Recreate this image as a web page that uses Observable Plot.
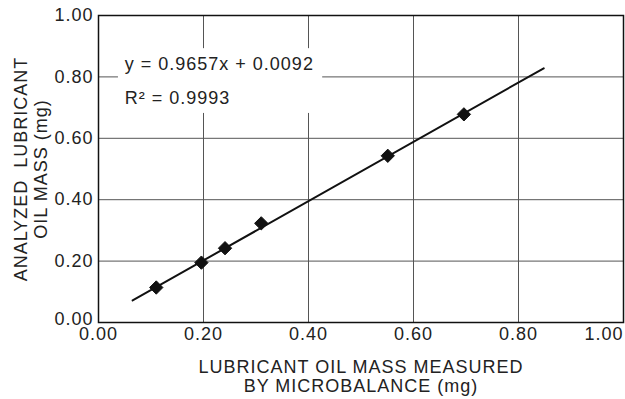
<!DOCTYPE html>
<html>
<head>
<meta charset="utf-8">
<script src="https://cdn.jsdelivr.net/npm/d3@7"></script>
<script src="https://cdn.jsdelivr.net/npm/@observablehq/plot@0.6"></script>
<style>
  html, body { margin: 0; padding: 0; background: #fff; }
  svg { display: block; }
  svg text { letter-spacing: 1px; }
</style>
</head>
<body>
<div id="chart"></div>
<script>
// Measured data (mg)
const measuredX = [0.11, 0.196, 0.241, 0.31, 0.551, 0.696];
const analyzedY = [0.114, 0.195, 0.242, 0.323, 0.543, 0.678];

// Fitted line endpoints as drawn
const fitX = [0.065, 0.848];
const fitY = [0.072, 0.828];

// Tick values
const xTicks = [0, 0.2, 0.4, 0.6, 0.8, 1.0];
const yTicks = [0, 0.2, 0.4, 0.6, 0.8, 1.0];

// Annotation
const eqLines = ["y = 0.9657x + 0.0092", "R² = 0.9993"];
const eqX = [0.05, 0.05];
const eqY = [0.821, 0.713];
const eqBox = [{x1: 0.038, x2: 0.427, y1: 0.681, y2: 0.892}];

const xLabel = "LUBRICANT OIL MASS MEASURED\nBY MICROBALANCE (mg)";
const yLabel = "ANALYZED  LUBRICANT\nOIL MASS (mg)";

const points = measuredX.map((x, i) => ({x, y: analyzedY[i]}));
const fit = fitX.map((x, i) => ({x, y: fitY[i]}));
const eq = eqLines.map((t, i) => ({t, x: eqX[i], y: eqY[i]}));

const fmt = d3.format(".2f");
const xTicksInner = xTicks.slice(0, -1);
const xTickLast = xTicks.slice(-1);
const yTickFirst = yTicks.slice(0, 1);
const yTicksRest = yTicks.slice(1);

const chart = Plot.plot({
  width: 625,
  height: 399,
  marginLeft: 98,
  marginRight: 2,
  marginTop: 15,
  marginBottom: 77,
  style: {fontFamily: "'Liberation Sans', Arial, sans-serif", fontSize: "18px", color: "#222", background: "#fff"},
  x: {domain: [0, 1], label: null},
  y: {domain: [0, 1], label: null},
  marks: [
    Plot.ruleX(xTicks, {stroke: "#555", strokeWidth: 1}),
    Plot.ruleY(yTicks, {stroke: "#555", strokeWidth: 1}),
    Plot.rect(eqBox, {x1: "x1", x2: "x2", y1: "y1", y2: "y2", fill: "white"}),
    Plot.frame({stroke: "#111", strokeWidth: 1.5}),
    Plot.axisX({ticks: xTicksInner, tickFormat: fmt, tickSize: 0, tickPadding: 5, fontSize: 18, label: null}),
    Plot.axisX({ticks: xTickLast, tickFormat: fmt, tickSize: 0, tickPadding: 5, fontSize: 18, textAnchor: "end", dx: 0, label: null}),
    Plot.axisY({ticks: yTicksRest, tickFormat: fmt, tickSize: 0, tickPadding: 5, fontSize: 18, label: null}),
    Plot.axisY({ticks: yTickFirst, tickFormat: fmt, tickSize: 0, tickPadding: 5, fontSize: 18, dy: -3, label: null}),
    Plot.line(fit, {x: "x", y: "y", stroke: "#111", strokeWidth: 2}),
    Plot.dot(points, {x: "x", y: "y", symbol: "diamond2", r: 6, fill: "#111", stroke: "#111", strokeWidth: 1}),
    Plot.text(eq, {x: "x", y: "y", text: "t", textAnchor: "start", lineAnchor: "bottom", fontSize: 18, fill: "#222"}),
    Plot.text([xLabel], {frameAnchor: "bottom", dy: 54, textAnchor: "middle", lineAnchor: "middle", lineHeight: 1.07, fontSize: 18, fill: "#222"}),
    Plot.text([yLabel], {frameAnchor: "left", dx: -68, rotate: -90, textAnchor: "middle", lineAnchor: "middle", lineHeight: 1.1, fontSize: 18, fill: "#222"})
  ]
});
document.getElementById("chart").appendChild(chart);
</script>
</body>
</html>
